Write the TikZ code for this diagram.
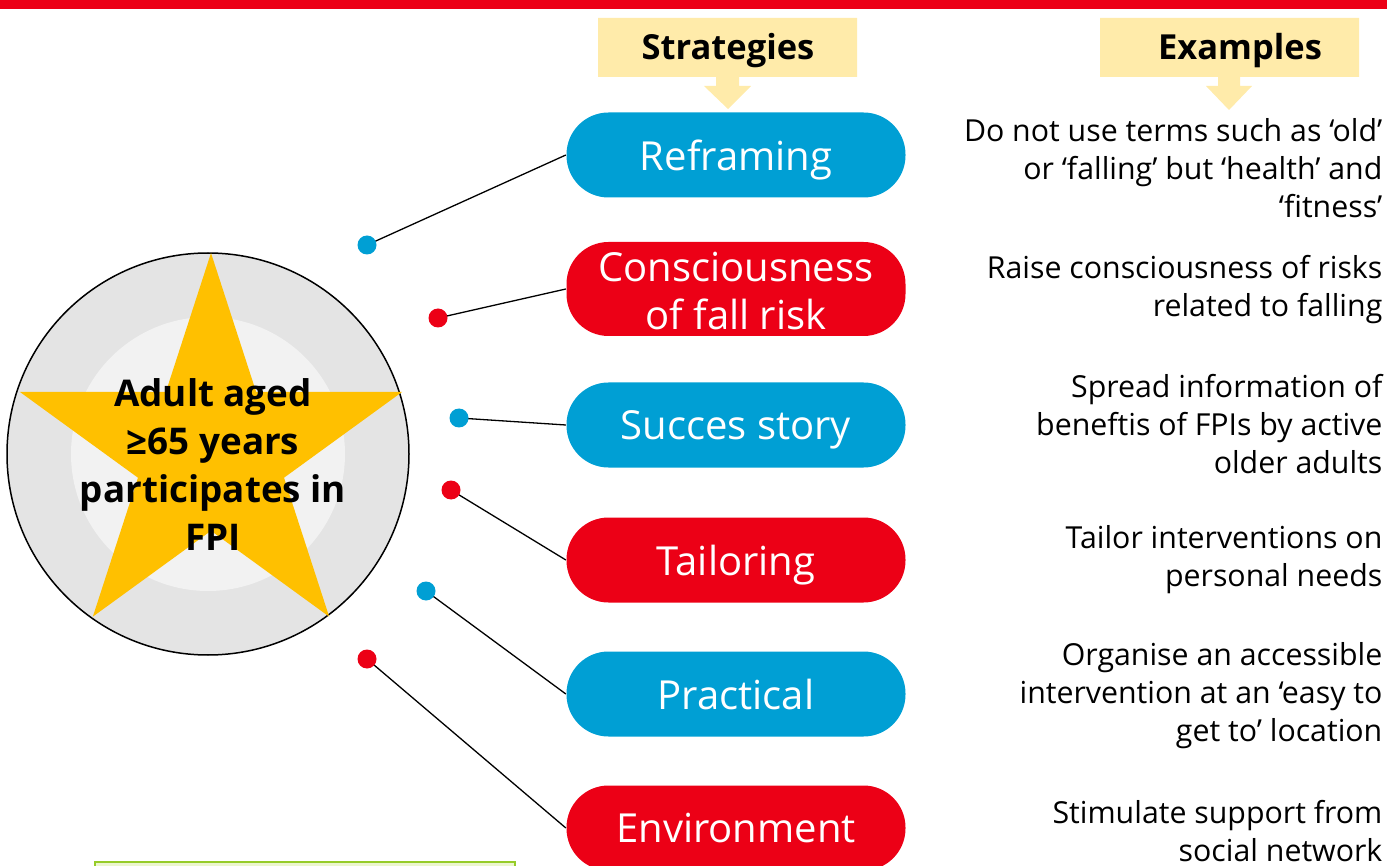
\documentclass[tikz,border=0pt]{standalone}
\usepackage{fontspec}
\setmainfont{Open Sans}
\usetikzlibrary{shapes.geometric}
\definecolor{fpired}{RGB}{236,0,22}
\definecolor{fpiblue}{RGB}{0,159,212}
\definecolor{headyellow}{RGB}{255,235,170}
\definecolor{stargold}{RGB}{255,192,0}
\definecolor{ringgray}{RGB}{228,228,228}
\definecolor{innergray}{RGB}{242,242,242}
\definecolor{boxgreen}{RGB}{150,204,40}
\definecolor{boxfill}{RGB}{236,246,206}
\tikzset{
  pill/.style={rounded corners=42pt, minimum width=339pt, minimum height=85pt,
    inner sep=0pt, text=white, align=center, text depth=0pt,
    font=\fontsize{40}{48}\selectfont},
  example/.style={anchor=east, align=right, inner sep=0pt,
    font=\fontsize{30.3}{38}\selectfont},
  dot/.style={circle, inner sep=0pt, minimum size=18pt},
  head/.style={font=\bfseries\fontsize{34.5}{40}\selectfont}
}
\begin{document}
\begin{tikzpicture}[x=1pt, y=-1pt, line width=1.3pt]
  \useasboundingbox (0,0) rectangle (1387,866);
  \clip (0,0) rectangle (1387,866);
  \fill[fpired] (0,0) rectangle (1387,9);

  \fill[headyellow] (598,18) -- (857,18) -- (857,77) -- (739,77) -- (739,86) -- (751,86)
    -- (728,109) -- (704,86) -- (716,86) -- (716,77) -- (598,77) -- cycle;
  \fill[headyellow] (1100,18) -- (1359,18) -- (1359,77) -- (1240,77) -- (1240,86) -- (1252,86)
    -- (1229,110) -- (1206,86) -- (1218,86) -- (1218,77) -- (1100,77) -- cycle;
  \node[head] (strat) at (728,51) {Strategies};
  \node[head] (exam) at (1240,51) {Examples};

  \draw[line width=1.5pt, fill=ringgray] (208,454) circle (201);
  \fill[innergray] (208,454) circle (137);
  \node[star, star points=5, star point ratio=2.618, minimum size=402pt,
    inner sep=0pt, fill=stargold] (star) at (211,454) {};
  \node[align=center, inner sep=0pt, font=\bfseries\fontsize{36.8}{48}\selectfont]
    (adult) at (213,465) {Adult aged\\≥65 years\\participates in\\FPI};

  \node[pill, fill=fpiblue] (s1) at (736,155) {Reframing};
  \node[pill, fill=fpired, minimum height=94pt] (s2) at (736,289) {\raisebox{-3pt}{Consciousness}\\\raisebox{-3pt}{of fall risk}};
  \node[pill, fill=fpiblue] (s3) at (736,425) {Succes story};
  \node[pill, fill=fpired] (s4) at (736,560) {Tailoring};
  \node[pill, fill=fpiblue] (s5) at (736,694) {Practical};
  \node[pill, fill=fpired] (s6) at (736,828) {Environment};

  \node[dot] (d1) at (367,245) {};
  \node[dot] (d2) at (438,318) {};
  \node[dot] (d3) at (459,418) {};
  \node[dot] (d4) at (451,490) {};
  \node[dot] (d5) at (426,591) {};
  \node[dot] (d6) at (367,659) {};
  \foreach \i in {1,...,6} \draw (d\i.center) -- (s\i.west);
  \foreach \i/\c in {1/fpiblue,2/fpired,3/fpiblue,4/fpired,5/fpiblue,6/fpired}
    \fill[\c] (d\i) circle (9.5);

  \node[example] (e1) at (1383,168) {Do not use terms such as ‘old’\\or ‘falling’ but ‘health’ and\\‘fitness’};
  \node[example] (e2) at (1383,290) {Raise consciousness of risks\\related to falling};
  \node[example] (e3) at (1383,424) {Spread information of\\beneftis of FPIs by active\\older adults};
  \node[example] (e4) at (1383,560) {Tailor interventions on\\personal needs};
  \node[example] (e5) at (1383,696) {Organise an accessible\\intervention at an ‘easy to\\get to’ location};
  \node[example] (e6) at (1383,831) {Stimulate support from\\social network};

  \draw[boxgreen, line width=2pt, fill=boxfill] (95,862) rectangle (515,900);
\end{tikzpicture}
\end{document}
